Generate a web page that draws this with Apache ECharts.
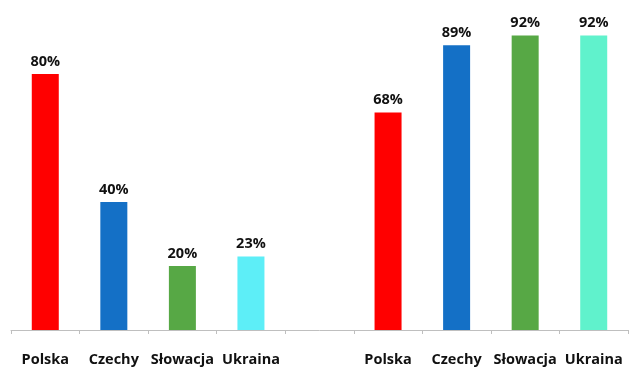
<!DOCTYPE html>
<html><head><meta charset="utf-8">
<script src="https://cdn.jsdelivr.net/npm/echarts@6/dist/echarts.min.js"></script>
<style>html,body{margin:0;padding:0;background:#fff}#c{width:640px;height:379px}</style>
</head><body><div id="c"></div>
<script>
var countries = ['Polska', 'Czechy', 'Słowacja', 'Ukraina'];
var leftValues = [80, 40, 20, 23];
var rightValues = [68, 89, 92, 92];
var leftColors = ['#FF0000', '#1470C6', '#57A845', '#5DEEF7'];
var rightColors = ['#FF0000', '#1470C6', '#57A845', '#60F2CC'];

var categories = countries.concat(['']).concat(countries);
var data = [];
leftValues.forEach(function (v, i) { data.push({ value: v, itemStyle: { color: leftColors[i] } }); });
data.push({ value: null });
rightValues.forEach(function (v, i) { data.push({ value: v, itemStyle: { color: rightColors[i] } }); });

var chart = echarts.init(document.getElementById('c'));
chart.setOption({
  animation: false,
  grid: { left: 11, right: 12, top: 10, bottom: 49 },
  xAxis: {
    type: 'category',
    data: categories,
    axisLine: { lineStyle: { color: '#BFBFBF', width: 1 } },
    axisTick: { show: true, length: 4, lineStyle: { color: '#BFBFBF' } },
    axisLabel: { interval: 0, margin: 22, color: '#111', fontWeight: 'bold', fontSize: 14.5, fontFamily: 'Open Sans' }
  },
  yAxis: { type: 'value', min: 0, max: 100, show: false, splitLine: { show: false } },
  series: [{
    type: 'bar',
    data: data,
    barWidth: 27,
    label: {
      show: true, position: 'top', distance: 5,
      formatter: '{c}%', color: '#111', fontWeight: 'bold', fontSize: 14.5, fontFamily: 'Open Sans'
    }
  }]
});
</script></body></html>
